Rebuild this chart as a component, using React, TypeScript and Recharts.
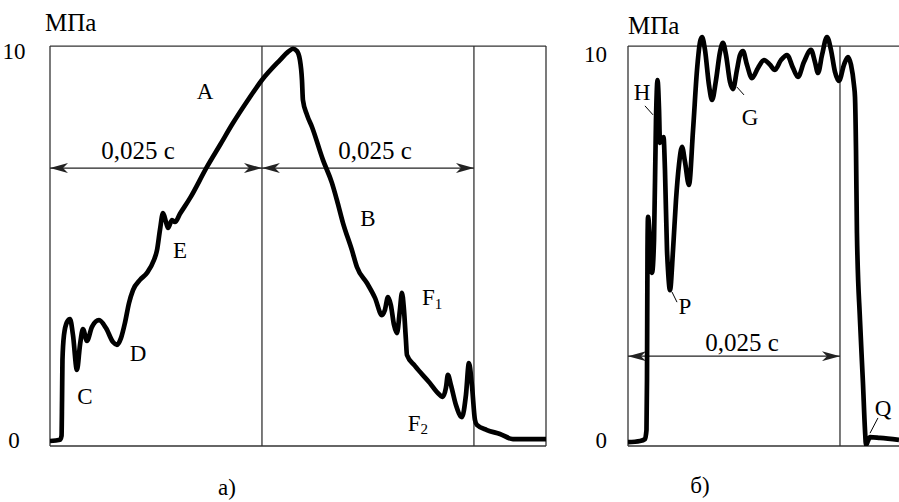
import { Line, LineChart, ReferenceDot, ReferenceLine, XAxis, YAxis } from "recharts";

// pressure traces, time in ms, pressure in MPa
const LEFT_T = [
  0, 1.18, 1.36, 1.42, 1.47, 1.65, 2.0, 2.36, 2.71, 3.18, 3.54, 3.89, 4.36, 4.95, 5.78, 6.6, 7.43, 7.9, 8.37, 8.84,
  9.32, 9.79, 10.61, 11.44, 12.26, 12.62, 12.97, 13.33, 13.68, 13.92, 14.39, 14.74, 15.33, 16.51, 18.51, 20.05,
  21.58, 23.35, 25.0, 27.12, 28.07, 28.66, 29.13, 29.48, 29.72, 29.83, 30.31, 30.9, 32.19, 33.25, 33.84, 34.55,
  35.61, 36.2, 37.38, 38.33, 39.15, 39.5, 39.86, 40.2, 40.57, 40.92, 41.27, 41.51, 41.75, 41.98, 42.1, 43.04,
  44.81, 45.64, 46.34, 46.7, 46.93, 47.29, 47.88, 48.58, 49.06, 49.41, 49.76, 50.12, 50.35, 51.53, 53.07, 54.6,
  58.5,
];
const LEFT_P = [
  0, 0.03, 0.13, 1.05, 2.07, 2.71, 3.04, 3.12, 2.71, 1.82, 2.46, 2.86, 2.56, 2.92, 3.09, 2.89, 2.53, 2.46, 2.63,
  3.02, 3.53, 3.86, 4.12, 4.3, 4.63, 4.88, 5.4, 5.83, 5.6, 5.45, 5.65, 5.6, 5.81, 6.21, 7.01, 7.57, 8.13, 8.72,
  9.23, 9.74, 9.95, 10.03, 9.97, 9.74, 9.23, 8.72, 8.34, 8.03, 7.19, 6.6, 6.16, 5.58, 4.88, 4.45, 4.04, 3.66,
  3.22, 3.35, 3.68, 3.48, 2.97, 2.76, 3.35, 3.79, 3.35, 2.58, 2.2, 1.92, 1.48, 1.25, 1.13, 1.36, 1.69, 1.43,
  0.92, 0.61, 1.18, 1.99, 1.43, 0.54, 0.41, 0.28, 0.18, 0.05, 0.05,
];

const RIGHT_T = [
  0, 1.42, 2.0, 2.18, 2.24, 2.3, 2.36, 2.59, 2.83, 3.07, 3.3, 3.48, 3.66, 3.77, 4.01, 4.19, 4.36, 4.6, 4.72, 4.95,
  5.31, 5.66, 6.01, 6.37, 6.72, 7.19, 7.67, 8.14, 8.49, 8.73, 9.08, 9.55, 9.91, 10.38, 10.85, 11.2, 11.56, 12.03,
  12.38, 12.85, 13.21, 13.56, 14.03, 14.62, 15.33, 16.04, 16.75, 17.33, 18.04, 18.75, 19.46, 20.05, 20.75, 21.58,
  22.05, 22.41, 22.88, 23.47, 23.94, 24.41, 24.88, 25.47, 25.94, 26.3, 26.65, 26.77, 26.89, 27.0, 27.36, 27.71,
  27.95, 28.07, 28.3, 28.54, 29.72, 31.96,
];
const RIGHT_P = [
  -0.03, 0, 0.05, 0.28, 1.56, 4.88, 5.73, 5.14, 4.3, 5.14, 8.21, 9.23, 8.47, 7.62, 7.7, 7.77, 6.93, 4.88, 4.37,
  3.86, 4.88, 6.16, 7.06, 7.52, 7.14, 6.55, 7.95, 9.49, 10.2, 10.33, 10.0, 9.1, 8.72, 9.23, 9.95, 10.18, 9.87,
  9.18, 9.0, 9.49, 9.87, 9.97, 9.62, 9.28, 9.54, 9.74, 9.62, 9.49, 9.74, 9.87, 9.54, 9.31, 9.69, 10.0, 9.69,
  9.41, 9.87, 10.33, 10.0, 9.44, 9.21, 9.62, 9.82, 9.62, 9.1, 8.8, 7.44, 5.32, 3.09, 1.48, 0.28, -0.1, 0, 0.1,
  0.08, 0.03,
];

const Y_TICKS = [0, 10];
const Y_DOMAIN = [-0.128, 10.51];
const FRAME_TOP = 10.1;
const FRAME_BOTTOM = -0.128;
const PERIOD = 25; // 0,025 c
const LEFT_END = 58.5;
const RIGHT_END = 31.96;

const leftData = LEFT_T.map((t, i) => ({ t, p: LEFT_P[i] }));
const rightData = RIGHT_T.map((t, i) => ({ t, p: RIGHT_P[i] }));

const FONT = '"Liberation Serif", "Times New Roman", serif';
const FRAME = "#333";

function txt(label: string, size = 23, anchor: "start" | "middle" | "end" = "middle", sub?: string) {
  return (p: any) => (
    <text x={p.cx} y={p.cy} style={{ fontFamily: FONT, fontSize: size }} textAnchor={anchor} dominantBaseline="central" fill="#000">
      {label}
      {sub ? (
        <tspan style={{ fontSize: 15 }} dy={6}>
          {sub}
        </tspan>
      ) : null}
    </text>
  );
}

function YTick({ x, y, payload, dx, anchor, dyTop }: any) {
  const v = payload.value;
  return (
    <text x={x + dx} y={y + (v === 10 ? dyTop : 0)} style={{ fontFamily: FONT, fontSize: 23 }} textAnchor={anchor} dominantBaseline="central" fill="#000">
      {v}
    </text>
  );
}

function Arrows() {
  return (
    <defs>
      <marker id="arr" markerUnits="userSpaceOnUse" markerWidth={18} markerHeight={10} refX={18} refY={5} orient="auto-start-reverse">
        <path d="M0,0 L18,5 L0,10 L5,5 Z" fill="#222" />
      </marker>
    </defs>
  );
}

function Dot(props: any) {
  return <ReferenceDot r={0} ifOverflow="visible" {...props} />;
}

function vseg(x: number) {
  return [
    { x, y: FRAME_BOTTOM },
    { x, y: FRAME_TOP },
  ];
}

function LeftPanel() {
  return (
    <LineChart width={560} height={502} margin={{ top: 30, right: 14, bottom: 56, left: 0 }}>
      <Arrows />
      <XAxis type="number" dataKey="t" domain={[0, LEFT_END]} allowDataOverflow hide />
      <YAxis
        type="number"
        domain={Y_DOMAIN}
        ticks={Y_TICKS}
        allowDataOverflow
        width={50}
        axisLine={false}
        tickLine={false}
        tick={<YTick dx={-28} anchor="middle" dyTop={2} />}
      />
      <ReferenceLine y={FRAME_TOP} stroke={FRAME} strokeWidth={1.3} />
      <ReferenceLine y={FRAME_BOTTOM} stroke={FRAME} strokeWidth={1.6} />
      {[0, PERIOD, 2 * PERIOD, LEFT_END].map((x) => (
        <ReferenceLine key={x} segment={vseg(x)} stroke={FRAME} strokeWidth={1.3} />
      ))}
      <ReferenceLine segment={[{ x: 0, y: 6.98 }, { x: PERIOD, y: 6.98 }]} stroke="#222" strokeWidth={1.2} markerStart="url(#arr)" markerEnd="url(#arr)" />
      <ReferenceLine segment={[{ x: PERIOD, y: 6.98 }, { x: 2 * PERIOD, y: 6.98 }]} stroke="#222" strokeWidth={1.2} markerStart="url(#arr)" markerEnd="url(#arr)" />
      <Line data={leftData} dataKey="p" type="monotone" stroke="#000" strokeWidth={4.7} strokeLinejoin="round" dot={false} isAnimationActive={false} />
      <Dot x={-0.59} y={10.69} shape={txt("МПа", 25, "start")} />
      <Dot x={18.28} y={8.93} shape={txt("A")} />
      <Dot x={10.38} y={7.44} shape={txt("0,025 с", 25)} />
      <Dot x={38.33} y={7.44} shape={txt("0,025 с", 25)} />
      <Dot x={37.5} y={5.7} shape={txt("B")} />
      <Dot x={15.33} y={4.88} shape={txt("E")} />
      <Dot x={10.38} y={2.25} shape={txt("D")} />
      <Dot x={4.13} y={1.13} shape={txt("C")} />
      <Dot x={43.87} y={3.66} shape={txt("F", 23, "start", "1")} />
      <Dot x={42.2} y={0.46} shape={txt("F", 23, "start", "2")} />
      <Dot x={20.87} y={-1.2} shape={txt("а)")} />
    </LineChart>
  );
}

function RightPanel() {
  return (
    <LineChart width={339} height={502} margin={{ top: 30, right: 0, bottom: 56, left: 0 }}>
      <Arrows />
      <XAxis type="number" dataKey="t" domain={[0, RIGHT_END]} allowDataOverflow hide />
      <YAxis
        type="number"
        domain={Y_DOMAIN}
        ticks={Y_TICKS}
        allowDataOverflow
        width={68}
        axisLine={false}
        tickLine={false}
        tick={<YTick dx={-13} anchor="end" dyTop={5} />}
      />
      <ReferenceLine y={FRAME_TOP} stroke={FRAME} strokeWidth={1.3} />
      <ReferenceLine y={FRAME_BOTTOM} stroke={FRAME} strokeWidth={1.6} />
      {[0, PERIOD].map((x) => (
        <ReferenceLine key={x} segment={vseg(x)} stroke={FRAME} strokeWidth={1.3} />
      ))}
      <ReferenceLine segment={[{ x: 0, y: 2.17 }, { x: PERIOD, y: 2.17 }]} stroke="#222" strokeWidth={1.2} markerStart="url(#arr)" markerEnd="url(#arr)" />
      <ReferenceLine segment={[{ x: 2.0, y: 8.57 }, { x: 2.95, y: 8.34 }]} stroke="#000" strokeWidth={1} />
      <ReferenceLine segment={[{ x: 12.85, y: 9.05 }, { x: 13.68, y: 8.85 }]} stroke="#000" strokeWidth={1} />
      <ReferenceLine segment={[{ x: 5.19, y: 3.81 }, { x: 5.78, y: 3.55 }]} stroke="#000" strokeWidth={1} />
      <ReferenceLine segment={[{ x: 28.54, y: 0.2 }, { x: 29.48, y: 0.59 }]} stroke="#000" strokeWidth={1} />
      <Line data={rightData} dataKey="p" type="monotone" stroke="#000" strokeWidth={4.7} strokeLinejoin="round" dot={false} isAnimationActive={false} />
      <Dot x={0} y={10.62} shape={txt("МПа", 25, "start")} />
      <Dot x={1.65} y={8.9} shape={txt("H")} />
      <Dot x={14.39} y={8.26} shape={txt("G")} />
      <Dot x={6.72} y={3.43} shape={txt("P")} />
      <Dot x={30.07} y={0.82} shape={txt("Q")} />
      <Dot x={13.44} y={2.53} shape={txt("0,025 с", 25)} />
      <Dot x={8.49} y={-1.13} shape={txt("б)")} />
    </LineChart>
  );
}

export default function App() {
  return (
    <div style={{ position: "absolute", left: 0, top: 0, width: 899, height: 502, background: "#fff" }}>
      <div style={{ position: "absolute", left: 0, top: 0 }}>
        <LeftPanel />
      </div>
      <div style={{ position: "absolute", left: 560, top: 0 }}>
        <RightPanel />
      </div>
    </div>
  );
}
